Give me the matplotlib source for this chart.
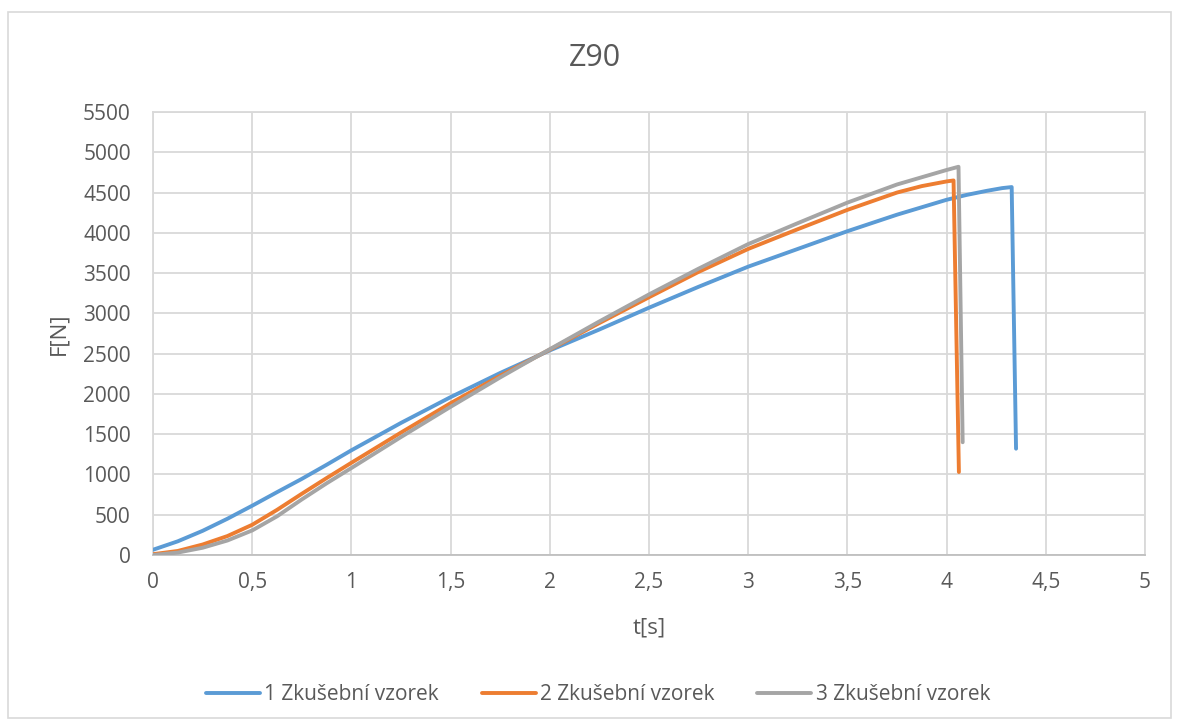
import matplotlib
matplotlib.use("Agg")
import matplotlib.pyplot as plt
from matplotlib.patches import Rectangle

# ---- data ----
t1 = [0, 0.125, 0.25, 0.375, 0.5, 0.625, 0.75, 0.875, 1, 1.25, 1.5, 1.75, 2, 2.25,
      2.5, 2.75, 3, 3.25, 3.5, 3.75, 4, 4.1, 4.2, 4.28, 4.328, 4.35]
f1 = [65, 170, 300, 450, 612, 780, 945, 1120, 1300, 1640, 1960, 2260, 2540, 2800,
      3070, 3330, 3580, 3800, 4020, 4225, 4410, 4470, 4520, 4555, 4568, 1320]

t2 = [0, 0.125, 0.25, 0.375, 0.5, 0.625, 0.75, 0.875, 1, 1.25, 1.5, 1.75, 2, 2.25,
      2.5, 2.75, 3, 3.25, 3.5, 3.75, 3.875, 4, 4.035, 4.062]
f2 = [10, 50, 130, 235, 375, 560, 760, 955, 1145, 1520, 1885, 2225, 2550, 2880,
      3200, 3515, 3800, 4045, 4285, 4500, 4580, 4638, 4650, 1030]

t3 = [0, 0.125, 0.25, 0.375, 0.5, 0.625, 0.75, 0.875, 1, 1.25, 1.5, 1.75, 2, 2.25,
      2.5, 2.75, 3, 3.25, 3.5, 3.75, 4, 4.06, 4.081]
f3 = [0, 30, 90, 180, 305, 480, 690, 890, 1080, 1465, 1840, 2205, 2555, 2900,
      3235, 3555, 3860, 4120, 4375, 4600, 4780, 4820, 1400]

labels = ["1 Zkušební vzorek", "2 Zkušební vzorek", "3 Zkušební vzorek"]
colors = ["#5B9BD5", "#ED7D31", "#A5A5A5"]
xticks = [0, 0.5, 1, 1.5, 2, 2.5, 3, 3.5, 4, 4.5, 5]
xticklabels = ["0", "0,5", "1", "1,5", "2", "2,5", "3", "3,5", "4", "4,5", "5"]
yticks = list(range(0, 5501, 500))

plt.rcParams['font.family'] = ['Open Sans', 'DejaVu Sans']
txt = "#595959"
grid = "#D9D9D9"

fig = plt.figure(figsize=(11.79, 7.25), dpi=100)
ax = fig.add_axes([153/1179, 1-555/725, (1145-153)/1179, (555-112)/725])

for t, f, lab, c in zip([t1, t2, t3], [f1, f2, f3], labels, colors):
    ax.plot(t, f, color=c, lw=2.8, label=lab, solid_capstyle='round',
            solid_joinstyle='round', zorder=3)

ax.set_xlim(0, 5)
ax.set_ylim(0, 5500)
ax.set_xticks(xticks)
ax.set_xticklabels(xticklabels)
ax.set_yticks(yticks)
ax.grid(True, color=grid, lw=1.3, zorder=0)
ax.set_axisbelow(True)
for s in ax.spines.values():
    s.set_color(grid)
    s.set_linewidth(1.3)
ax.spines['bottom'].set_color("#BFBFBF")
ax.tick_params(length=0, labelsize=15, labelcolor=txt)
ax.tick_params(axis='y', pad=16)
ax.tick_params(axis='x', pad=12)

ax.set_xlabel("t[s]", fontsize=16, color=txt, labelpad=18)
ax.set_ylabel("F[N]", fontsize=16, color=txt, labelpad=10)
fig.text(595/1179, 1-58/725, "Z90", ha='center', va='center', fontsize=22, color=txt)

leg = fig.legend(loc='center', bbox_to_anchor=(598/1179, 1-695/725), ncol=3,
                 frameon=False, fontsize=15, handlelength=2.6, handletextpad=0.2,
                 columnspacing=2.05)
for tx in leg.get_texts():
    tx.set_color(txt)

fig.patches.append(Rectangle((8/1179, 1-718/725), (1171-8)/1179, (718-12)/725,
                             transform=fig.transFigure, fill=False, edgecolor=grid, lw=1.2))

fig.savefig("out.png", dpi=100)
